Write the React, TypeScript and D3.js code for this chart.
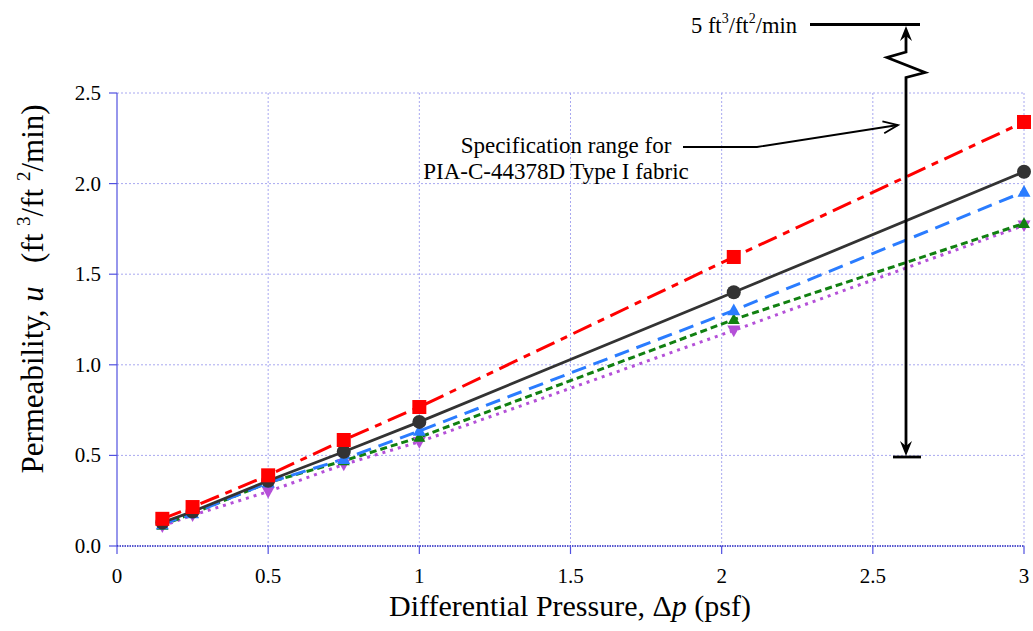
import React from "react";
import * as d3 from "d3";

const pressure = [0.15, 0.25, 0.5, 0.75, 1.0, 2.04, 3.0];
const redSeries = [0.15, 0.215, 0.39, 0.585, 0.767, 1.595, 2.34];
const blackSeries = [0.13, 0.19, 0.36, 0.52, 0.685, 1.4, 2.065];
const blueSeries = [0.12, 0.18, 0.35, 0.48, 0.635, 1.3, 1.955];
const greenSeries = [0.115, 0.18, 0.35, 0.47, 0.6, 1.25, 1.78];
const purpleSeries = [0.11, 0.17, 0.3, 0.45, 0.575, 1.19, 1.77];

const xTicks = [0, 0.5, 1, 1.5, 2, 2.5, 3];
const xTickLabels = ["0", "0.5", "1", "1.5", "2", "2.5", "3"];
const yTicks = [0, 0.5, 1, 1.5, 2, 2.5];
const yTickLabels = ["0.0", "0.5", "1.0", "1.5", "2.0", "2.5"];

const W = 1033;
const H = 631;
const left = 117;
const right = 1024;
const top = 93;
const bottom = 546;

const FONT = "'Liberation Serif', 'Times New Roman', serif";

type Series = {
  values: number[];
  color: string;
  dash: string;
  width: number;
  marker: "square" | "circle" | "up" | "down";
  size: number;
};

const series: Series[] = [
  { values: purpleSeries, color: "#b450d8", dash: "3,5", width: 3, marker: "down", size: 13 },
  { values: greenSeries, color: "#118011", dash: "7,4", width: 3, marker: "up", size: 12 },
  { values: blueSeries, color: "#2a7cff", dash: "15,8", width: 3, marker: "up", size: 13 },
  { values: blackSeries, color: "#333333", dash: "none", width: 2.8, marker: "circle", size: 14 },
  { values: redSeries, color: "#ff0000", dash: "20,7,7,7", width: 3, marker: "square", size: 14 },
];

export default function App() {
  const x = d3.scaleLinear().domain([0, 3]).range([left, right]);
  const y = d3.scaleLinear().domain([0, 2.5]).range([bottom, top]);

  const marker = (s: Series, cx: number, cy: number, key: number) => {
    const r = s.size / 2;
    if (s.marker === "square")
      return <rect key={key} x={cx - r} y={cy - r} width={s.size} height={s.size} fill={s.color} />;
    if (s.marker === "circle") return <circle key={key} cx={cx} cy={cy} r={r} fill={s.color} />;
    if (s.marker === "up")
      return (
        <path
          key={key}
          d={`M${cx},${cy - r * 1.05} L${cx + r},${cy + r * 0.75} L${cx - r},${cy + r * 0.75} Z`}
          fill={s.color}
        />
      );
    return (
      <path
        key={key}
        d={`M${cx},${cy + r * 1.05} L${cx + r},${cy - r * 0.75} L${cx - r},${cy - r * 0.75} Z`}
        fill={s.color}
      />
    );
  };

  const ax = 906;
  const stealthUp = (tx: number, ty: number) =>
    `M${tx},${ty} L${tx + 6},${ty + 15} L${tx},${ty + 10} L${tx - 6},${ty + 15} Z`;
  const stealthDown = (tx: number, ty: number) =>
    `M${tx},${ty} L${tx + 6},${ty - 15} L${tx},${ty - 10} L${tx - 6},${ty - 15} Z`;

  const tipX = 898,
    tipY = 125;
  const ang = Math.atan2(tipY - 147, tipX - 757);
  const armLen = 16;
  const a1 = ang + Math.PI - 0.38;
  const a2 = ang + Math.PI + 0.38;

  return (
    <svg
      width={W}
      height={H}
      style={{ position: "absolute", left: 0, top: 0, background: "#fff" }}
      fontFamily={FONT}
    >
      <rect width={W} height={H} fill="#fff" />
      {xTicks.slice(1).map((t) => (
        <line key={"gx" + t} x1={x(t)} x2={x(t)} y1={top} y2={bottom} stroke="#a8a8f0" strokeWidth={1} strokeDasharray="2,2" />
      ))}
      {yTicks.slice(1).map((t) => (
        <line key={"gy" + t} x1={left} x2={right} y1={y(t)} y2={y(t)} stroke="#a8a8f0" strokeWidth={1} strokeDasharray="2,2" />
      ))}
      <line x1={left} x2={left} y1={top} y2={bottom} stroke="#5050e0" strokeWidth={1.2} />
      <line x1={left} x2={right} y1={bottom} y2={bottom} stroke="#2020c0" strokeWidth={1.5} strokeDasharray="1.5,1" />
      {yTicks.map((t) => (
        <line key={"ty" + t} x1={left - 8} x2={left} y1={y(t)} y2={y(t)} stroke="#5050e0" strokeWidth={1.2} />
      ))}
      {xTicks.map((t) => (
        <line key={"tx" + t} x1={x(t)} x2={x(t)} y1={bottom} y2={bottom + 8} stroke="#5050e0" strokeWidth={1.2} />
      ))}
      {yTicks.map((t, i) => (
        <text key={"ly" + t} x={101} y={y(t) + 7} textAnchor="end" fontSize={21} fill="#000">
          {yTickLabels[i]}
        </text>
      ))}
      {xTicks.map((t, i) => (
        <text key={"lx" + t} x={x(t)} y={583} textAnchor="middle" fontSize={21} fill="#000">
          {xTickLabels[i]}
        </text>
      ))}
      <text x={570} y={616} textAnchor="middle" fontSize={30} fill="#000">
        Differential Pressure, Δ<tspan fontStyle="italic">p</tspan> (psf)
      </text>
      <text transform="translate(43,289) rotate(-90)" textAnchor="middle" fontSize={31} fill="#000" xmlSpace="preserve">
        Permeability, <tspan fontStyle="italic">u</tspan>{"   (ft "}
        <tspan fontSize={19} dy={-13}>3</tspan>
        <tspan dy={13}>/ft </tspan>
        <tspan fontSize={19} dy={-13}>2</tspan>
        <tspan dy={13}>/min)</tspan>
      </text>

      {series.map((s, si) => {
        const line = d3
          .line<number>()
          .x((_, i) => x(pressure[i]))
          .y((v) => y(v));
        return (
          <path
            key={"l" + si}
            d={line(s.values) || ""}
            fill="none"
            stroke={s.color}
            strokeWidth={s.width}
            strokeDasharray={s.dash}
          />
        );
      })}
      {series.map((s, si) => (
        <g key={"m" + si}>{s.values.map((v, i) => marker(s, x(pressure[i]), y(v), i))}</g>
      ))}

      <text x={691} y={33} fontSize={22.5} fill="#000">
        5 ft<tspan fontSize={14} dy={-10}>3</tspan>
        <tspan dy={10}>/ft</tspan>
        <tspan fontSize={14} dy={-10}>2</tspan>
        <tspan dy={10}>/min</tspan>
      </text>
      <line x1={810} x2={920} y1={24.5} y2={24.5} stroke="#000" strokeWidth={2.8} />
      <path
        d={`M${ax},36 L${ax},52 L887,57.5 L925,72.5 L${ax},77.5 L${ax},446`}
        fill="none"
        stroke="#000"
        strokeWidth={2.8}
        strokeLinejoin="miter"
      />
      <path d={stealthUp(ax, 26)} fill="#000" />
      <path d={stealthDown(ax, 456)} fill="#000" />
      <line x1={893} x2={921} y1={457} y2={457} stroke="#000" strokeWidth={2.8} />

      <path d={`M683,147 L757,147 L${tipX},${tipY}`} fill="none" stroke="#000" strokeWidth={1.8} />
      <path
        d={`M${tipX + armLen * Math.cos(a1)},${tipY + armLen * Math.sin(a1)} L${tipX},${tipY} L${
          tipX + armLen * Math.cos(a2)
        },${tipY + armLen * Math.sin(a2)}`}
        fill="none"
        stroke="#000"
        strokeWidth={1.8}
      />
      <text x={566} y={153} textAnchor="middle" fontSize={23} fill="#000">
        Specification range for
      </text>
      <text x={556} y={179} textAnchor="middle" fontSize={23} fill="#000">
        PIA-C-44378D Type I fabric
      </text>
    </svg>
  );
}
